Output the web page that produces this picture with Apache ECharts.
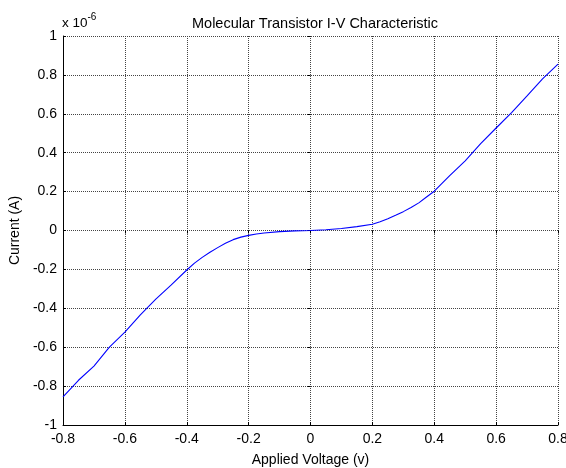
<!DOCTYPE html>
<html>
<head>
<meta charset="utf-8">
<script src="https://cdn.jsdelivr.net/npm/echarts@6/dist/echarts.min.js"></script>
<style>
html,body{margin:0;padding:0;background:#fff;}
#c{width:566px;height:468px;}
</style>
</head>
<body>
<div id="c"></div>
<script>
// Applied voltage (V)
var voltage = [-0.8,-0.75,-0.7,-0.65,-0.6,-0.55,-0.5,-0.45,-0.4,-0.375,-0.35,-0.325,-0.3,-0.275,-0.25,-0.225,-0.2,-0.175,-0.15,-0.1,-0.05,0,0.05,0.1,0.15,0.2,0.225,0.25,0.275,0.3,0.325,0.35,0.375,0.4,0.45,0.5,0.55,0.6,0.65,0.7,0.75,0.8];
// Current in units of 1e-6 A
var current = [-0.855,-0.77,-0.697,-0.60,-0.522,-0.434,-0.353,-0.28,-0.203,-0.168,-0.138,-0.112,-0.088,-0.066,-0.047,-0.034,-0.025,-0.018,-0.013,-0.006,-0.002,0,0.004,0.01,0.02,0.032,0.045,0.06,0.078,0.097,0.118,0.142,0.172,0.202,0.282,0.358,0.447,0.527,0.606,0.692,0.78,0.855];
var xTicks = [-0.8,-0.6,-0.4,-0.2,0,0.2,0.4,0.6,0.8];
var yTicks = [-1,-0.8,-0.6,-0.4,-0.2,0,0.2,0.4,0.6,0.8,1];

var data = voltage.map(function(v,i){return [v,current[i]];});
var font = 'Liberation Sans, Arial, Helvetica, sans-serif';
var fs = 14;
var gridLine = {show:true, lineStyle:{color:'#444', type:[1,1], width:1}};
var fmt = function(v){return String(Math.round(v*10)/10);};
var chart = echarts.init(document.getElementById('c'), null, {renderer:'canvas'});
chart.setOption({
  animation:false,
  backgroundColor:'#fff',
  title:{text:'Molecular Transistor I-V Characteristic', left:310, top:11, textAlign:'center',
    textStyle:{fontFamily:font, fontSize:14.5, fontWeight:'normal', color:'#000'}},
  grid:{left:63, right:8, top:36, bottom:43, containLabel:false, outerBoundsMode:'none'},
  graphic:[{type:'text', left:62, top:12, style:{
    text:'{a|x 10}{b|-6}', fontFamily:font,
    rich:{a:{fontSize:13.5, fontFamily:font, fill:'#000', padding:[7,0,0,0]}, b:{fontSize:10, fontFamily:font, fill:'#000', padding:[0,0,6,0]}}
  }}],
  xAxis:[{type:'value', min:-0.8, max:0.8, interval:0.2, position:'bottom',
    name:'Applied Voltage (v)', nameLocation:'middle', nameGap:28,
    nameTextStyle:{fontFamily:font, fontSize:fs, color:'#000'},
    axisLine:{show:true, onZero:false, lineStyle:{color:'#000', width:1}},
    axisTick:{show:true, inside:true, length:3, lineStyle:{color:'#000'}},
    axisLabel:{fontFamily:font, fontSize:fs, color:'#000', margin:7, formatter:fmt},
    splitLine:gridLine},
   {type:'value', min:-0.8, max:0.8, interval:0.2, position:'top',
    axisLine:{show:false}, axisTick:{show:true, inside:true, length:3, lineStyle:{color:'#000'}},
    axisLabel:{show:false}, splitLine:{show:false}}],
  yAxis:[{type:'value', min:-1, max:1, interval:0.2, position:'left',
    name:'Current (A)', nameLocation:'middle', nameGap:41, nameRotate:90,
    nameTextStyle:{fontFamily:font, fontSize:fs, color:'#000'},
    axisLine:{show:true, onZero:false, lineStyle:{color:'#000', width:1}},
    axisTick:{show:true, inside:true, length:3, lineStyle:{color:'#000'}},
    axisLabel:{fontFamily:font, fontSize:fs, color:'#000', margin:6, formatter:fmt},
    splitLine:gridLine},
   {type:'value', min:-1, max:1, interval:0.2, position:'right',
    axisLine:{show:false}, axisTick:{show:true, inside:true, length:3, lineStyle:{color:'#000'}},
    axisLabel:{show:false}, splitLine:{show:false}}],
  series:[{type:'line', data:data, showSymbol:false, symbol:'none',
    lineStyle:{color:'#0000ff', width:1.1}, xAxisIndex:0, yAxisIndex:0}]
});
</script>
</body>
</html>
